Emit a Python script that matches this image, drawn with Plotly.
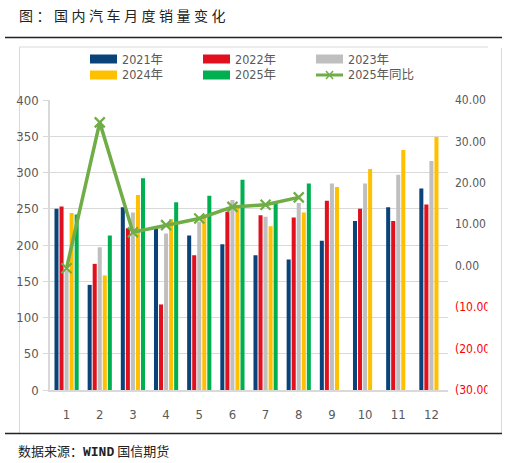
import plotly.graph_objects as go

months = [str(m) for m in range(1, 13)]
sales_2021 = [250, 145, 252, 222, 213, 201, 186, 180, 206, 233, 252, 278]
sales_2022 = [253, 174, 223, 118, 186, 246, 241, 238, 261, 250, 233, 256]
sales_2023 = [165, 197, 245, 216, 232, 262, 239, 258, 285, 285, 297, 316]
sales_2024 = [244, 158, 269, 236, 241, 255, 226, 245, 280, 305, 331, 349]
sales_2025 = [242, 213, 292, 259, 268, 290, 258, 285, None, None, None, None]
yoy_months = months[:8]
yoy_2025 = [-0.6, 34.6, 8.1, 9.8, 11.4, 14.2, 14.7, 16.5]

series_names = ["2021年", "2022年", "2023年", "2024年", "2025年"]
series_colors = ["#0a4379", "#e0101e", "#bfbfbf", "#ffc000", "#00b050"]
line_name = "2025年同比"
line_color = "#70ad47"

left_ticks = list(range(0, 401, 50))
right_ticks = list(range(-30, 41, 10))


def fmt_right(v):
    if v < 0:
        return "<span style='color:#ff0000'>(%.2f)</span>" % abs(v)
    return "%.2f" % v


right_ticktext = [fmt_right(v) for v in right_ticks]

W, H = 507, 463
L, R, T, B = 50, 448, 100, 390


def px(x):
    return (x - L) / (R - L)


def py(y):
    return (B - y) / (B - T)


fig = go.Figure()
all_series = [sales_2021, sales_2022, sales_2023, sales_2024, sales_2025]
for name, vals, col in zip(series_names, all_series, series_colors):
    fig.add_trace(go.Bar(x=months, y=vals, name=name, marker_color=col,
                         marker_line_width=0, showlegend=False))

fig.add_trace(go.Scatter(x=yoy_months, y=yoy_2025, name=line_name, yaxis="y2",
                         mode="lines+markers",
                         line=dict(color=line_color, width=3.5),
                         marker=dict(symbol="x-thin", size=10,
                                     line=dict(color=line_color, width=2.2)),
                         showlegend=False))

font_family = "Liberation Sans Narrow, Arial Narrow, DejaVu Sans Condensed, Liberation Sans, Noto Sans CJK SC"
tick_font = dict(family=font_family, size=13, color="#595959")
right_tick_font = dict(family=font_family, size=12, color="#595959")

shapes = []
annotations = []

# frame lines
shapes.append(dict(type="line", xref="paper", yref="paper", x0=px(5), x1=px(502), y0=py(37.5), y1=py(37.5),
                   line=dict(color="#222222", width=1.5), layer="above"))
shapes.append(dict(type="line", xref="paper", yref="paper", x0=px(5), x1=px(502), y0=py(433.5), y1=py(433.5),
                   line=dict(color="#222222", width=1.5), layer="above"))
shapes.append(dict(type="line", xref="paper", yref="paper", x0=px(19.5), x1=px(488), y0=py(47), y1=py(47),
                   line=dict(color="#d9d9d9", width=1), layer="below"))
shapes.append(dict(type="line", xref="paper", yref="paper", x0=px(19.5), x1=px(19.5), y0=py(47), y1=py(433),
                   line=dict(color="#d9d9d9", width=1), layer="below"))
shapes.append(dict(type="line", xref="paper", yref="paper", x0=px(501.5), x1=px(501.5), y0=py(48), y1=py(433),
                   line=dict(color="#d9d9d9", width=1), layer="below"))
# clip right labels like in the source frame
shapes.append(dict(type="rect", xref="paper", yref="paper", x0=px(487.5), x1=px(500.5), y0=py(420), y1=py(90),
                   fillcolor="white", line=dict(width=0), layer="above"))

# manual legend
legend_pos = [(90, 59), (203, 59), (316, 59), (90, 75), (203, 75)]
legend_font = dict(family=font_family, size=12.5, color="#595959")
for (lx, ly), name, col in zip(legend_pos, series_names, series_colors):
    shapes.append(dict(type="rect", xref="paper", yref="paper", x0=px(lx), x1=px(lx + 27),
                       y0=py(ly + 4.5), y1=py(ly - 4.5), fillcolor=col, line=dict(width=0), layer="above"))
    annotations.append(dict(xref="paper", yref="paper", x=px(lx + 30), y=py(ly), text=name,
                            showarrow=False, xanchor="left", yanchor="middle", font=legend_font))
lx, ly = 316, 75
shapes.append(dict(type="line", xref="paper", yref="paper", x0=px(lx), x1=px(lx + 27), y0=py(ly), y1=py(ly),
                   line=dict(color=line_color, width=3), layer="above"))
cx = lx + 13.5
shapes.append(dict(type="line", xref="paper", yref="paper", x0=px(cx - 3.5), x1=px(cx + 3.5), y0=py(ly - 4), y1=py(ly + 4),
                   line=dict(color=line_color, width=1.5), layer="above"))
shapes.append(dict(type="line", xref="paper", yref="paper", x0=px(cx - 3.5), x1=px(cx + 3.5), y0=py(ly + 4), y1=py(ly - 4),
                   line=dict(color=line_color, width=1.5), layer="above"))
annotations.append(dict(xref="paper", yref="paper", x=px(lx + 30), y=py(ly), text=line_name,
                        showarrow=False, xanchor="left", yanchor="middle", font=legend_font))

# title and source
sp = "\u2005"
title_text = sp.join(list("图：国内汽车月度销量变化"))
annotations.append(dict(xref="paper", yref="paper", x=px(17), y=py(15), text=title_text,
                        showarrow=False, xanchor="left", yanchor="middle",
                        font=dict(family="Noto Sans CJK SC", size=14, color="#222222")))
annotations.append(dict(xref="paper", yref="paper", x=px(16), y=py(450),
                        text="数据来源：<span style='font-family:Liberation Mono'><b>WIND</b></span> 国信期货",
                        showarrow=False, xanchor="left", yanchor="middle",
                        font=dict(family="Noto Sans CJK SC", size=13, color="#222222")))

fig.update_layout(
    template="none",
    width=W, height=H,
    margin=dict(l=L, r=W - R, t=T, b=H - B, pad=0, autoexpand=False),
    paper_bgcolor="white", plot_bgcolor="white",
    barmode="group", bargap=0.24, bargroupgap=0.2,
    showlegend=False,
    xaxis=dict(type="category", categoryorder="array", categoryarray=months, automargin=False,
               range=[-0.5, len(months) - 0.5], autorange=False,
               showgrid=False, showline=True, linecolor="#d9d9d9", linewidth=1.5,
               ticks="", tickfont=tick_font, ticklabelstandoff=12),
    yaxis=dict(range=[0, 400], tickvals=left_ticks, automargin=False,
               showgrid=True, gridcolor="#d9d9d9", gridwidth=1.3,
               showline=True, linecolor="#d9d9d9", linewidth=1.5, zeroline=False,
               ticks="outside", ticklen=5, tickcolor="#d9d9d9", tickwidth=1.3,
               tickfont=tick_font, ticklabelstandoff=2),
    yaxis2=dict(range=[-30, 40], tickvals=right_ticks, ticktext=right_ticktext, overlaying="y", side="right",
                automargin=False, showgrid=False, zeroline=False, showline=False, ticks="",
                tickfont=right_tick_font, ticklabelstandoff=6),
    shapes=shapes, annotations=annotations,
)

fig.write_html("out.html", config={"displayModeBar": False, "responsive": False},
               post_script="document.body.style.margin='0px';document.body.style.padding='0px';")
